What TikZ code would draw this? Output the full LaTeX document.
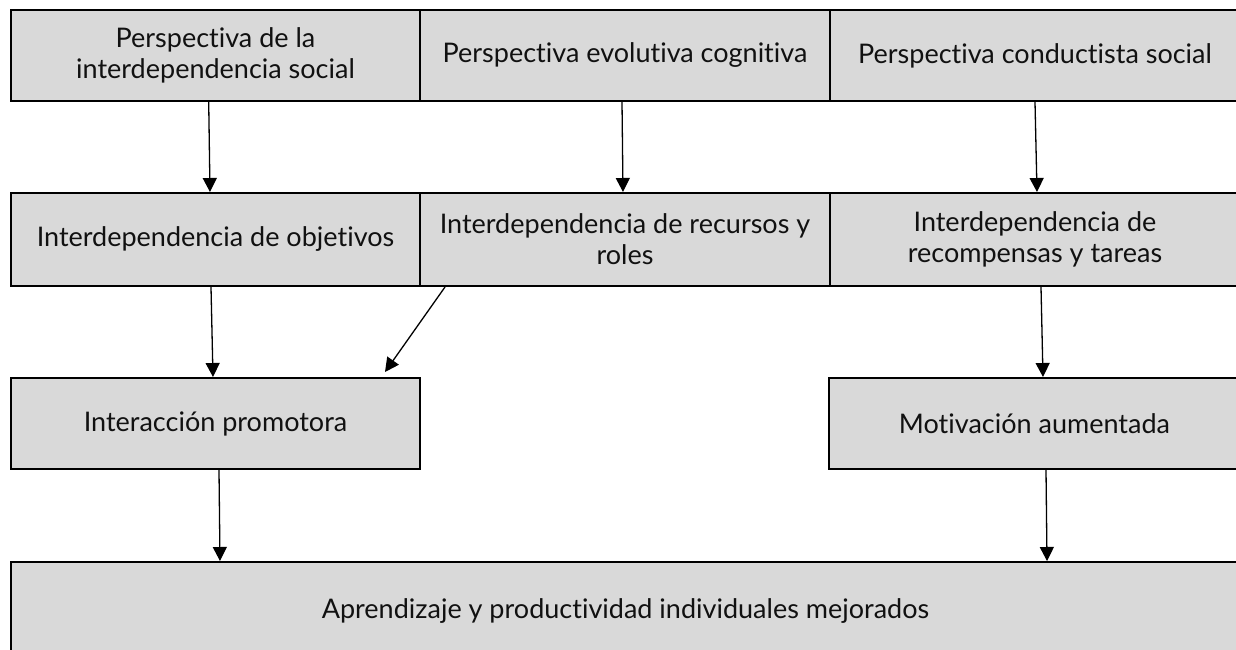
\documentclass[tikz,border=0pt]{standalone}
\usepackage{fontspec}
\setmainfont{Lato}[RawFeature={-liga;-clig;-calt;-dlig}]
\usetikzlibrary{arrows.meta}
\definecolor{boxfill}{HTML}{D9D9D9}
\definecolor{txt}{HTML}{111111}
\begin{document}
\begin{tikzpicture}[x=1pt,y=-1pt,
  box/.style={draw=black, line width=2pt, fill=boxfill, text=txt, align=center,
    font=\fontsize{27}{31}\selectfont, inner sep=0pt},
  arr/.style={line width=1.3pt, -{Triangle[length=14pt,width=14pt]}}]
\useasboundingbox (0,0) rectangle (1236,649);
\fill[white] (0,0) rectangle (1236,649);
\clip (0,0) rectangle (1236,649);
% row 1
\node[box, minimum width=409pt, minimum height=91pt] (p1) at (215.5,55.5) {Perspectiva de la\\interdependencia social};
\node[box, minimum width=410pt, minimum height=91pt] (p2) at (625,55.5) {Perspectiva evolutiva cognitiva};
\node[box, minimum width=410pt, minimum height=91pt] (p3) at (1035,55.5) {Perspectiva conductista social};
% row 2
\node[box, minimum width=409pt, minimum height=93pt] (o1) at (215.5,239.5) {Interdependencia de objetivos};
\node[box, minimum width=410pt, minimum height=93pt] (o2) at (625,239.5) {Interdependencia de recursos y\\roles};
\node[box, minimum width=410pt, minimum height=93pt] (o3) at (1035,239.5) {Interdependencia de\\recompensas y tareas};
% row 3
\node[box, minimum width=409pt, minimum height=91pt] (i1) at (215.5,423.5) {Interacción promotora};
\node[box, minimum width=411pt, minimum height=91pt] (m1) at (1034.5,423.5) {Motivación aumentada};
% bottom
\node[box, minimum width=1229pt, minimum height=98pt, text height=20pt, text depth=6pt] (b) at (625.5,611) {Aprendizaje y productividad individuales mejorados};
% arrows
\draw[arr] ([xshift=-6.8pt]p1.south) -- ([xshift=-5.5pt]o1.north);
\draw[arr] ([xshift=-3pt]p2.south) -- ([xshift=-2pt]o2.north);
\draw[arr] ([xshift=0pt]p3.south) -- ([xshift=2pt]o3.north);
\draw[arr] ([xshift=-4.5pt]o1.south) -- ([xshift=-2.5pt]i1.north);
\draw[arr] ([xshift=-180pt]o2.south) -- ([xshift=169.5pt,yshift=5pt]i1.north);
\draw[arr] ([xshift=6pt]o3.south) -- ([xshift=8.5pt]m1.north);
\draw[arr] ([xshift=3.5pt]i1.south) -- ([xshift=-405.5pt]b.north);
\draw[arr] ([xshift=11.5pt]m1.south) -- ([xshift=421.5pt]b.north);
\end{tikzpicture}
\end{document}
